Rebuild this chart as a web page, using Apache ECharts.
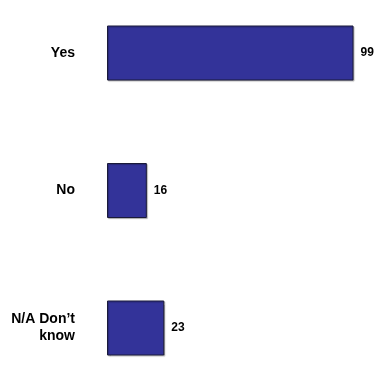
<!DOCTYPE html>
<html><head><meta charset="utf-8">
<script src="https://cdn.jsdelivr.net/npm/echarts@6/dist/echarts.min.js"></script>
<style>html,body{margin:0;padding:0;background:#fff}#c{width:374px;height:370px}</style>
</head><body><div id="c"></div>
<script>
var categories = ['Yes', 'No', 'N/A Don\u2019t\nknow'];
var values = [99, 16, 23];
var xMax = 100;

var chart = echarts.init(document.getElementById('c'), null, {renderer: 'canvas'});
chart.setOption({
  animation: false,
  backgroundColor: '#ffffff',
  grid: {left: 107, right: 18, top: 53, height: 275, containLabel: false},
  xAxis: {type: 'value', min: 0, max: xMax, show: false},
  yAxis: {
    type: 'category', data: categories, inverse: true, boundaryGap: false,
    axisLine: {show: false}, axisTick: {show: false}, splitLine: {show: false},
    axisLabel: {
      margin: 32, color: '#000', fontWeight: 'bold', fontSize: 14,
      fontFamily: 'Liberation Sans, Arial, sans-serif', lineHeight: 17, align: 'right'
    }
  },
  series: [{
    type: 'bar', data: values, barWidth: 55, clip: false,
    itemStyle: {color: '#333399', borderColor: '#1a1a3a', borderWidth: 1,
      shadowColor: 'rgba(0,0,0,0.25)', shadowOffsetX: 1, shadowOffsetY: 1, shadowBlur: 1},
    label: {show: true, position: 'right', distance: 7, color: '#000', fontWeight: 'bold',
      fontSize: 12, fontFamily: 'Liberation Sans, Arial, sans-serif'}
  }]
});
</script></body></html>
